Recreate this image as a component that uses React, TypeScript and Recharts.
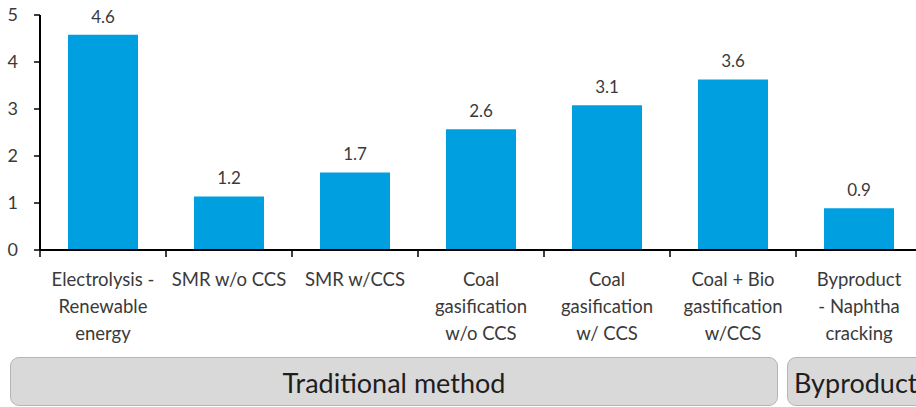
import React from "react";
import { BarChart, Bar, XAxis, YAxis, LabelList } from "recharts";

const categories = [
  "Electrolysis -\nRenewable\nenergy",
  "SMR w/o CCS",
  "SMR w/CCS",
  "Coal\ngasification\nw/o CCS",
  "Coal\ngasification\nw/ CCS",
  "Coal + Bio\ngastification\nw/CCS",
  "Byproduct\n- Naphtha\ncracking",
];
const values = [4.58, 1.14, 1.65, 2.57, 3.08, 3.63, 0.89];
const valueLabels = ["4.6", "1.2", "1.7", "2.6", "3.1", "3.6", "0.9"];
const yTicks = [0, 1, 2, 3, 4, 5];
const groups = ["Traditional method", "Byproduct"];

const data = categories.map((name, i) => ({
  name,
  value: values[i],
  label: valueLabels[i],
}));

const FONT = "Lato, 'Open Sans', sans-serif";
const TEXT = "#3a3a3a";
const BAND = 126;

const CategoryTick = (props: any) => {
  const { x, y, payload, index } = props;
  const lines = String(payload.value).split("\n");
  return (
    <g>
      <line x1={x - BAND / 2} x2={x - BAND / 2} y1={y} y2={y + 7} stroke="#000" strokeWidth={1.5} />
      {index === categories.length - 1 && (
        <line x1={x + BAND / 2} x2={x + BAND / 2} y1={y} y2={y + 7} stroke="#000" strokeWidth={1.5} />
      )}
      {lines.map((l, i) => (
        <text
          key={i}
          x={x}
          y={y + 36 + i * 27}
          textAnchor="middle"
          fill={TEXT}
          fontSize={18.5}
          fontFamily={FONT}
        >
          {l}
        </text>
      ))}
    </g>
  );
};

const boxStyle: React.CSSProperties = {
  position: "absolute",
  top: 357,
  height: 49,
  background: "#d9d9d9",
  border: "1.5px solid #b5b5b5",
  borderRadius: 9,
  boxSizing: "border-box",
  display: "flex",
  alignItems: "center",
  fontFamily: FONT,
  fontSize: 27,
  color: "#1e1e1e",
  whiteSpace: "nowrap",
  paddingTop: 2,
};

export default function App() {
  return (
    <div
      style={{
        position: "absolute",
        left: 0,
        top: 0,
        width: 916,
        height: 407,
        overflow: "hidden",
        background: "#fff",
      }}
    >
      <BarChart
        width={930}
        height={407}
        data={data}
        margin={{ top: 15, right: 8, left: 0, bottom: 0 }}
        barCategoryGap={28}
      >
        <YAxis
          width={40}
          domain={[0, 5]}
          ticks={yTicks}
          tickSize={6}
          tickMargin={16}
          axisLine={{ stroke: "#000", strokeWidth: 2 }}
          tickLine={{ stroke: "#000", strokeWidth: 1.5 }}
          tick={{ fill: TEXT, fontSize: 18, fontFamily: FONT }}
        />
        <XAxis
          dataKey="name"
          height={157}
          interval={0}
          tickSize={0}
          tickMargin={0}
          axisLine={{ stroke: "#000", strokeWidth: 2 }}
          tickLine={false}
          tick={<CategoryTick />}
        />
        <Bar dataKey="value" fill="#009fe0" isAnimationActive={false}>
          <LabelList
            dataKey="label"
            position="top"
            offset={12}
            fill={TEXT}
            fontSize={17}
            fontFamily={FONT}
          />
        </Bar>
      </BarChart>
      <div style={{ ...boxStyle, left: 10, width: 768, justifyContent: "center" }}>{groups[0]}</div>
      <div style={{ ...boxStyle, left: 787, width: 144, paddingLeft: 6 }}>{groups[1]}</div>
    </div>
  );
}
